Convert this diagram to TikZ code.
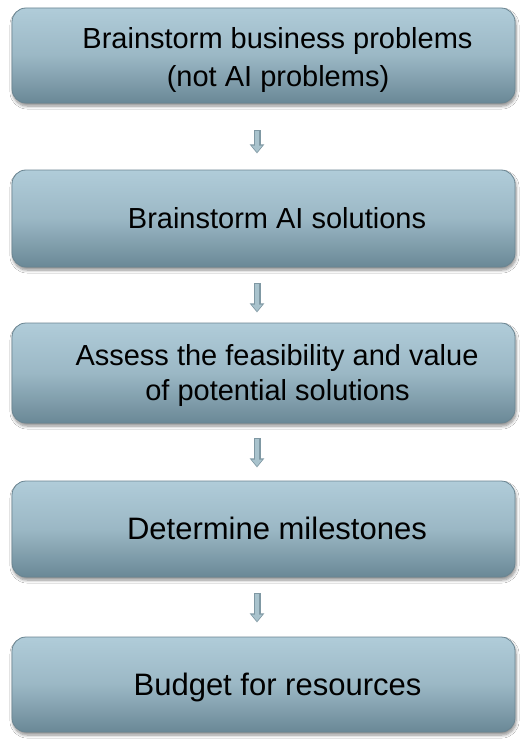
\documentclass[tikz,border=0pt]{standalone}
\usepackage{fontspec}
\setmainfont{Liberation Sans}
\usetikzlibrary{arrows.meta,calc,shadows.blur}
\definecolor{boxtop}{HTML}{B0CCD9}
\definecolor{boxbot}{HTML}{6A8896}
\definecolor{boxline}{HTML}{6A8592}
\definecolor{arrline}{HTML}{7F98A3}
\definecolor{arrfill}{HTML}{A9C3CD}
\tikzset{
  stepbox/.style={rounded corners=14bp, draw=boxline, line width=0.8bp,
    top color=boxtop, bottom color=boxbot, middle color=boxtop!70!boxbot,
    minimum width=503bp, inner sep=0pt,
    blur shadow={shadow xshift=1bp, shadow yshift=-3bp, shadow blur steps=6, shadow blur radius=3bp, shadow opacity=45}},
  txtA/.style={anchor=base, inner sep=0pt, font=\fontsize{29bp}{35bp}\selectfont},
  txtB/.style={anchor=base, inner sep=0pt, font=\fontsize{31bp}{37bp}\selectfont},
  arrouter/.style={line width=7bp, arrline, -{Triangle[length=9bp,width=14bp]}},
  arrinner/.style={line width=4.6bp, arrfill, shorten <=1bp, shorten >=1.3bp, -{Triangle[length=6.6bp,width=10.4bp]}}
}
\begin{document}
\begin{tikzpicture}[x=1bp,y=-1bp]
\useasboundingbox[fill=white] (0,0) rectangle (529,746);
% boxes
\node[stepbox, minimum height=95bp] (b1) at (263.5,55.5) {};
\node[stepbox, minimum height=97bp] (b2) at (263.5,218.5) {};
\node[stepbox, minimum height=100bp] (b3) at (263.5,373) {};
\node[stepbox, minimum height=96bp] (b4) at (263.5,529) {};
\node[stepbox, minimum height=95bp] (b5) at (263.5,684.5) {};
% texts
\node[txtA] (t1a) at (277.5,49) {Brainstorm business problems};
\node[txtA] (t1b) at (278,86) {(not AI problems)};
\node[txtA] (t2) at (277,228) {Brainstorm AI solutions};
\node[txtA] (t3a) at (277,365) {Assess the feasibility and value};
\node[txtA] (t3b) at (277.5,400) {of potential solutions};
\node[txtB] (t4) at (277,539) {Determine milestones};
\node[txtB] (t5) at (277.5,695) {Budget for resources};
% arrow end points
\coordinate (a1s) at ($(b1.south)+(-6.5,27)$);
\coordinate (a1e) at ($(b1.south)+(-6.5,50)$);
\coordinate (a2s) at ($(b2.south)+(-6.5,16)$);
\coordinate (a2e) at ($(b2.south)+(-6.5,45)$);
\coordinate (a3s) at ($(b3.south)+(-6.5,15)$);
\coordinate (a3e) at ($(b3.south)+(-6.5,44)$);
\coordinate (a4s) at ($(b4.south)+(-6.5,16)$);
\coordinate (a4e) at ($(b4.south)+(-6.5,45)$);
\foreach \i in {1,2,3,4}{
  \draw[arrouter] (a\i s) -- (a\i e);
  \draw[arrinner] (a\i s) -- (a\i e);
}
\end{tikzpicture}
\end{document}
